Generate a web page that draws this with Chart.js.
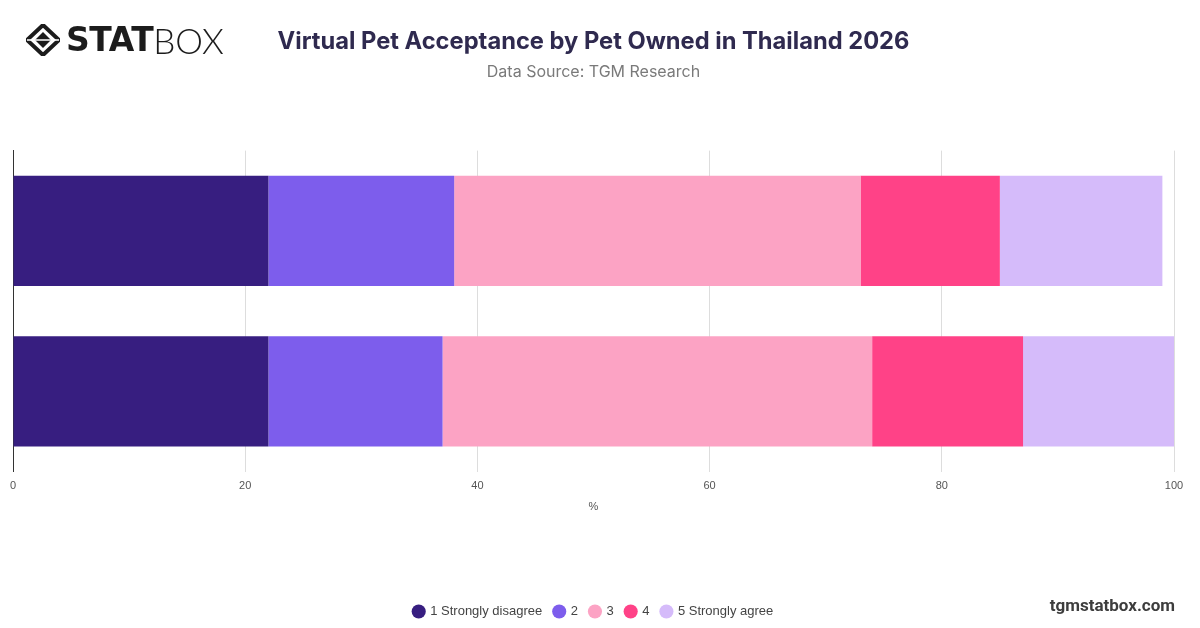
<!DOCTYPE html>
<html>
<head>
<meta charset="utf-8">
<script src="https://cdn.jsdelivr.net/npm/chart.js@4.4.0/dist/chart.umd.min.js"></script>
<style>
  html, body { margin: 0; padding: 0; background: #ffffff; }
  #wrap { position: relative; width: 1200px; height: 628px; overflow: hidden; }
  #c { position: absolute; left: 0; top: 0; }
  #logo { position: absolute; left: 26px; top: 22px; display: flex; align-items: center; height: 36px; }
  #logo .stat { font-family: "DejaVu Sans", Inter, sans-serif; font-weight: 900; font-size: 33px; color: #1c1c1c; letter-spacing: -0.5px; margin-left: 6px; line-height: 36px; }
  #logo .box { font-family: Lato, "Open Sans", sans-serif; font-weight: 300; font-size: 35px; color: #1c1c1c; line-height: 36px; letter-spacing: 0px; }
  #site { position: absolute; right: 25px; top: 595px; font-family: Roboto, "Liberation Sans", sans-serif; font-weight: 700; font-size: 17px; color: #3d3d3d; }
</style>
</head>
<body>
<div id="wrap">
  <canvas id="c" width="1200" height="628"></canvas>
  <div id="logo">
    <svg width="34" height="32" viewBox="0 0 34 32">
      <polygon points="17,1 33,16 17,31 1,16" fill="none" stroke="#1c1c1c" stroke-width="4"/>
      <polygon points="17,8 25,16 17,24 9,16" fill="#1c1c1c"/>
      <line x1="1" y1="16" x2="33" y2="16" stroke="#fff" stroke-width="1.5"/>
    </svg>
    <span class="stat">STAT</span><span class="box">BOX</span>
  </div>
  <div id="site">tgmstatbox.com</div>
</div>
<script>
const categories = ["Pet owner", "Non-pet owner"];
const seriesNames = ["1 Strongly disagree", "2", "3", "4", "5 Strongly agree"];
const s1 = [22, 22];
const s2 = [16, 15];
const s3 = [35, 37];
const s4 = [12, 13];
const s5 = [14, 13];
const xTicks = [0, 20, 40, 60, 80, 100];
const colors = ["#371e80", "#7d5dec", "#fca3c4", "#ff4287", "#d5bbfa"];

const seriesValues = [s1, s2, s3, s4, s5];
const datasets = seriesNames.map((n, i) => ({
  label: n,
  data: seriesValues[i],
  backgroundColor: colors[i],
  borderWidth: 0,
  categoryPercentage: 1.0,
  barPercentage: 0.6875
}));

new Chart(document.getElementById('c'), {
  type: 'bar',
  data: { labels: categories, datasets },
  options: {
    indexAxis: 'y',
    responsive: false,
    animation: false,
    devicePixelRatio: 1,
    layout: { padding: { left: 13, right: 26, top: 0, bottom: 0 } },
    plugins: {
      title: {
        display: true,
        text: 'Virtual Pet Acceptance by Pet Owned in Thailand 2026',
        color: '#2f2a4f',
        font: { family: 'Inter, "Liberation Sans", sans-serif', size: 23.7, weight: 'bold' },
        padding: { top: 28, bottom: 1 }
      },
      subtitle: {
        display: true,
        text: 'Data Source: TGM Research',
        color: '#7a7a7a',
        font: { family: 'Inter, "Liberation Sans", sans-serif', size: 16 },
        padding: { top: 5, bottom: 69 }
      },
      legend: {
        position: 'bottom',
        labels: {
          usePointStyle: true,
          pointStyle: 'circle',
          boxWidth: 10,
          boxHeight: 10,
          padding: 12,
          color: '#444',
          font: { family: '"Liberation Sans", Arial, sans-serif', size: 13 }
        }
      },
      tooltip: { enabled: false }
    },
    scales: {
      x: {
        stacked: true,
        min: 0,
        max: 100,
        afterBuildTicks: (axis) => { axis.ticks = xTicks.map(v => ({ value: v })); },
        ticks: { color: '#555', padding: 8, font: { family: '"Liberation Sans", Arial, sans-serif', size: 11 } },
        grid: { color: '#dddddd', drawTicks: false },
        border: { display: false },
        title: {
          display: true,
          text: '%',
          color: '#555',
          font: { family: '"Liberation Sans", Arial, sans-serif', size: 11 },
          padding: { top: 0, bottom: 79 }
        }
      },
      y: {
        stacked: true,
        ticks: { display: false },
        grid: { display: false, drawTicks: false },
        border: { display: true, color: '#333', width: 1 }
      }
    }
  }
});
</script>
</body>
</html>
